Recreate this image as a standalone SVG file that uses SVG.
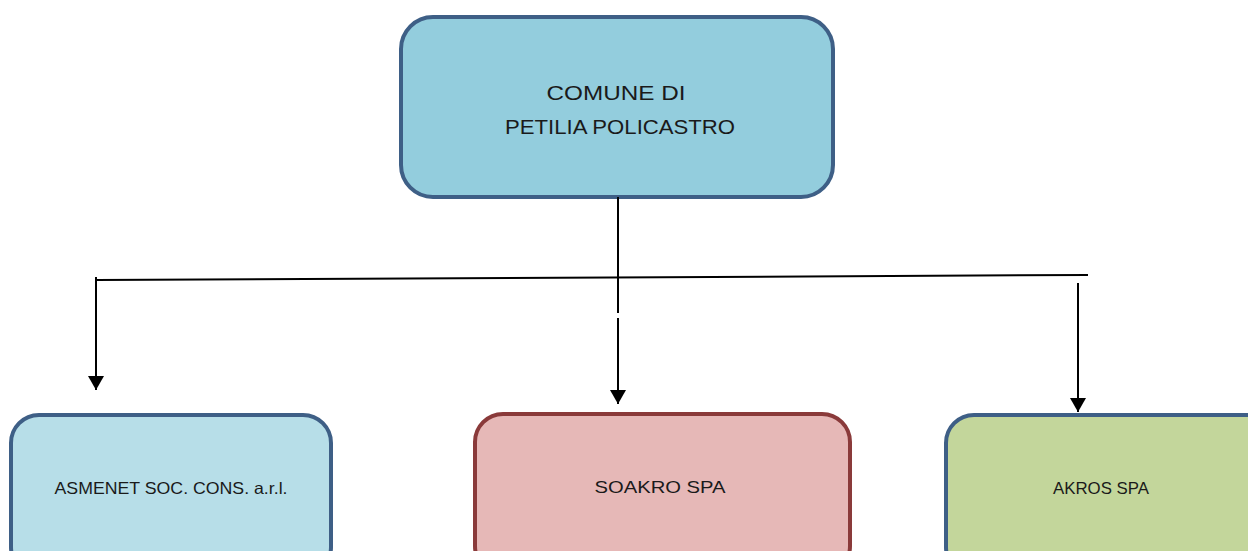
<svg xmlns="http://www.w3.org/2000/svg" width="1248" height="551" viewBox="0 0 1248 551">
<style>
.box{stroke-width:4}
.blue{fill:#93CDDD;stroke:#3E5F86}
.lblue{fill:#B7DEE8;stroke:#3E5F86}
.red{fill:#E6B8B7;stroke:#8A3A3A}
.green{fill:#C3D69B;stroke:#3E5F86}
.t{font-family:"Liberation Sans",Arial,sans-serif;fill:#1a1a1a;text-anchor:middle}
.conn{stroke:#000;stroke-width:2;fill:none}
</style>
<defs>
<marker id="arr" markerUnits="userSpaceOnUse" markerWidth="16" markerHeight="16" refX="14" refY="8" orient="auto">
<path d="M0,0 L14,8 L0,16 Z" fill="#000"/>
</marker>
</defs>
<g id="comune">
<rect class="box blue" x="401" y="17" width="432" height="180" rx="32"/>
<text class="t" x="616" y="100" font-size="21" textLength="139" lengthAdjust="spacingAndGlyphs">COMUNE DI</text>
<text class="t" x="620" y="134" font-size="21" textLength="230" lengthAdjust="spacingAndGlyphs">PETILIA POLICASTRO</text>
</g>
<g id="asmenet">
<rect class="box lblue" x="11" y="415" width="320" height="160" rx="28"/>
<text class="t" x="171" y="494" font-size="16.5" textLength="233" lengthAdjust="spacingAndGlyphs">ASMENET SOC. CONS. a.r.l.</text>
</g>
<g id="soakro">
<rect class="box red" x="475" y="414" width="375" height="160" rx="28"/>
<text class="t" x="660" y="493" font-size="17" textLength="131" lengthAdjust="spacingAndGlyphs">SOAKRO SPA</text>
</g>
<g id="akros">
<rect class="box green" x="946" y="415" width="330" height="160" rx="28"/>
<text class="t" x="1101" y="494" font-size="17" textLength="96" lengthAdjust="spacingAndGlyphs">AKROS SPA</text>
</g>
<g id="connectors">
<line class="conn" x1="96" y1="280" x2="1088" y2="275"/>
<line class="conn" x1="618" y1="197" x2="618" y2="313"/>
<line class="conn" x1="96" y1="277" x2="96" y2="390" marker-end="url(#arr)"/>
<line class="conn" x1="618" y1="318" x2="618" y2="404" marker-end="url(#arr)"/>
<line class="conn" x1="1078" y1="283" x2="1078" y2="412" marker-end="url(#arr)"/>
</g>
</svg>
